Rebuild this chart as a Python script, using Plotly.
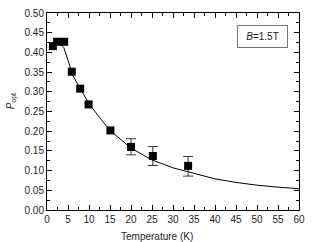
import plotly.graph_objects as go

# Measured data
temp = [1.4, 2.4, 4.1, 5.9, 7.9, 9.9, 15.1, 20.0, 25.2, 33.6]
p_opt = [0.416, 0.427, 0.427, 0.351, 0.308, 0.268, 0.202, 0.160, 0.137, 0.112]
err_plus = [None, None, None, None, None, None, None, 0.021, 0.024, 0.024]
err_minus = [None, None, None, None, None, None, None, 0.020, 0.024, 0.026]

# Fit curve
fit_t = [3.0, 4.0, 5.0, 6.0, 7.0, 8.0, 10, 12.5, 15, 20, 25, 30, 35, 40, 45, 50, 55, 60]
fit_p = [0.425, 0.412, 0.380, 0.345, 0.325, 0.306, 0.270, 0.235, 0.202, 0.157,
         0.127, 0.107, 0.093, 0.079, 0.070, 0.063, 0.058, 0.054]

x_ticks = [0, 5, 10, 15, 20, 25, 30, 35, 40, 45, 50, 55, 60]
y_ticks = [0.00, 0.05, 0.10, 0.15, 0.20, 0.25, 0.30, 0.35, 0.40, 0.45, 0.50]

font = "Liberation Sans, Arial, sans-serif"

idx = [i for i, e in enumerate(err_plus) if e is not None]

fig = go.Figure()
fig.add_trace(go.Scatter(x=fit_t, y=fit_p, mode="lines",
                         line=dict(color="black", width=1), hoverinfo="skip"))
fig.add_trace(go.Scatter(x=[temp[i] for i in idx], y=[p_opt[i] for i in idx], mode="markers",
                         marker=dict(size=1, color="rgba(0,0,0,0)"),
                         error_y=dict(type="data", symmetric=False,
                                      array=[err_plus[i] for i in idx],
                                      arrayminus=[err_minus[i] for i in idx],
                                      color="#333", thickness=1, width=5)))
fig.add_trace(go.Scatter(x=temp, y=p_opt, mode="markers",
                         marker=dict(symbol="square", size=8, color="black")))

axis_common = dict(showline=True, linecolor="black", linewidth=1, mirror="ticks",
                   ticks="inside", ticklen=5, tickwidth=1, tickcolor="black",
                   showgrid=False, zeroline=False,
                   tickfont=dict(family=font, size=10, color="#222"))

fig.update_xaxes(range=[0, 60], tickvals=x_ticks,
                 minor=dict(ticks="inside", ticklen=3, dtick=2.5, tickcolor="black"),
                 **axis_common)
fig.update_yaxes(range=[0, 0.5], tickvals=y_ticks, tickformat=".2f",
                 minor=dict(ticks="inside", ticklen=3, dtick=0.025, tickcolor="black"),
                 **axis_common)

fig.add_annotation(text="Temperature (K)", xref="paper", yref="paper",
                   x=0.438, y=-0.133, xanchor="center", yanchor="middle", showarrow=False,
                   font=dict(family=font, size=10, color="#222"))
fig.add_annotation(text="<i>P</i><sub>opt</sub>", xref="paper", yref="paper",
                   x=-0.14, y=0.55, xanchor="center", yanchor="middle", showarrow=False,
                   textangle=-90, font=dict(family=font, size=10, color="#222"))
fig.add_annotation(text="<i>B</i>=1.5T", xref="paper", yref="paper",
                   x=0.855, y=0.883, xanchor="center", yanchor="middle", showarrow=False,
                   width=49, height=21, borderpad=0, bordercolor="#777", borderwidth=1,
                   bgcolor="white", font=dict(family=font, size=10, color="#222"))

fig.update_layout(width=312, height=242, margin=dict(l=47, r=7, t=8, b=32),
                  showlegend=False, plot_bgcolor="white", paper_bgcolor="white")

fig.write_html("out.html")
